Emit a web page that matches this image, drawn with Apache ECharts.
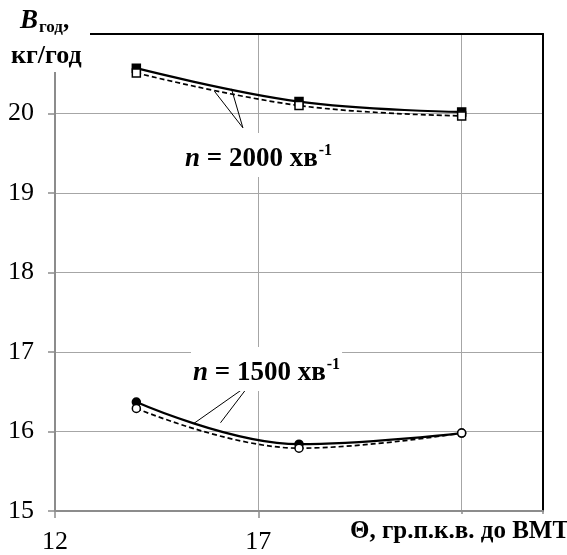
<!DOCTYPE html>
<html>
<head>
<meta charset="utf-8">
<script src="https://cdn.jsdelivr.net/npm/echarts@6/dist/echarts.min.js"></script>
<style>
  html, body { margin: 0; background: #fff; }
  #chart { width: 567px; height: 555px; }
</style>
</head>
<body>
<div id="chart"></div>
<script>
// Data
const angles = [14, 18, 22];
const fuel2000Solid = [20.57, 20.15, 20.02];
const fuel2000Dashed = [20.51, 20.10, 19.97];
const fuel1500Solid = [16.37, 15.84, 15.98];
const fuel1500Dashed = [16.29, 15.79, 15.98];
const xTickLabels = [12, 17];

// leader lines from labels to the curves (data units)
const leaders2000 = [[[16.62, 19.82], [15.92, 20.28]], [[16.62, 19.82], [16.34, 20.31]]];
const leaders1500 = [[[16.8, 16.6], [15.41, 16.1]], [[16.8, 16.6], [16.07, 16.11]]];

const serif = "'Liberation Serif', 'Times New Roman', serif";

const pairs = (ys) => angles.map((x, i) => [x, ys[i]]);

const makeSeries = (data, opts) => ({
  type: "line",
  data: pairs(data),
  smooth: 0.4,
  symbol: opts.symbol,
  symbolSize: opts.size,
  showSymbol: true,
  itemStyle: { color: opts.fill, borderColor: "#000", borderWidth: 1.5 },
  lineStyle: { color: "#000", width: opts.width, type: opts.dashed ? [5, 3] : "solid" },
  z: opts.z,
  markLine: opts.leaders ? {
    silent: true,
    symbol: "none",
    label: { show: false },
    lineStyle: { color: "#000", width: 1, type: "solid" },
    data: opts.leaders.map((l) => [{ coord: l[0] }, { coord: l[1] }]),
  } : undefined,
});

// rich text for the "n = ... хв-1" labels
const speedLabel = (rpm) => ({
  text: "{i|n}{t| = " + rpm + " хв}{p|-1}",
  fill: "#000",
  backgroundColor: "#fff",
  padding: [10, 2, 2, 2],
  rich: {
    i: { fontFamily: serif, fontSize: 27, fontWeight: "bold", fontStyle: "italic", lineHeight: 32 },
    t: { fontFamily: serif, fontSize: 27, fontWeight: "bold", lineHeight: 32 },
    p: { fontFamily: serif, fontSize: 16, fontWeight: "bold", verticalAlign: "top", lineHeight: 32, padding: [0, 0, 12, 1] },
  },
});

const chart = echarts.init(document.getElementById("chart"), null, { renderer: "canvas" });

const grayAxis = { lineStyle: { color: "#8c8c8c", width: 2 } };
const grayTick = { show: true, length: 7, lineStyle: { color: "#8c8c8c", width: 1.5 } };

chart.setOption({
  animation: false,
  grid: { left: 55, right: 24, top: 34, bottom: 42 },
  xAxis: [
    {
      type: "value",
      min: 12,
      max: 24,
      interval: 5,
      axisLine: grayAxis,
      axisTick: grayTick,
      axisLabel: {
        fontFamily: serif, fontSize: 26, color: "#000", margin: 18,
        formatter: (v) => (xTickLabels.includes(v) ? String(v) : ""),
      },
      splitLine: { show: true, lineStyle: { color: "#a6a6a6", width: 1 } },
    },
    {
      type: "value", position: "top", min: 12, max: 24, interval: 5,
      axisLine: { lineStyle: { color: "#000", width: 2 } },
      axisTick: { show: false }, axisLabel: { show: false }, splitLine: { show: false },
    },
  ],
  yAxis: [
    {
      type: "value",
      min: 15,
      max: 21,
      interval: 1,
      axisLine: { show: true, ...grayAxis },
      axisTick: grayTick,
      axisLabel: { fontFamily: serif, fontSize: 26, color: "#000", margin: 21, showMaxLabel: false },
      splitLine: { show: true, lineStyle: { color: "#a6a6a6", width: 1 } },
    },
    {
      type: "value", position: "right", min: 15, max: 21, interval: 1,
      axisLine: { show: true, lineStyle: { color: "#000", width: 2 } },
      axisTick: { show: false }, axisLabel: { show: false }, splitLine: { show: false },
    },
  ],
  series: [
    makeSeries(fuel2000Solid, { symbol: "rect", size: 8, fill: "#000", width: 2.2, z: 3 }),
    makeSeries(fuel2000Dashed, { symbol: "rect", size: 8, fill: "#fff", width: 1.7, dashed: true, z: 4, leaders: leaders2000 }),
    makeSeries(fuel1500Solid, { symbol: "circle", size: 8, fill: "#000", width: 2.2, z: 3 }),
    makeSeries(fuel1500Dashed, { symbol: "circle", size: 8, fill: "#fff", width: 1.7, dashed: true, z: 4, leaders: leaders1500 }),
  ],
  graphic: [
    // white box behind the y-axis title
    { type: "rect", left: 0, top: 0, shape: { width: 90, height: 72 }, style: { fill: "#fff" }, z: 100 },
    {
      type: "text", left: 20, top: 8, z: 101,
      style: {
        text: "{b|B}{s|год}{c|,}",
        fill: "#000",
        rich: {
          b: { fontFamily: serif, fontSize: 27, fontWeight: "bold", fontStyle: "italic", lineHeight: 30 },
          s: { fontFamily: serif, fontSize: 17, fontWeight: "bold", verticalAlign: "bottom", lineHeight: 30, padding: [10, 0, 0, 1] },
          c: { fontFamily: serif, fontSize: 25, fontWeight: "bold", lineHeight: 30 },
        },
      },
    },
    {
      type: "text", left: 11, top: 43, z: 101,
      style: { text: "кг/год", fill: "#000", fontFamily: serif, fontSize: 26, fontWeight: "bold" },
    },
    {
      type: "text", left: 343, top: 514, z: 101,
      style: {
        text: "Θ, гр.п.к.в. до ВМТ",
        fontFamily: serif, fontSize: 25, fontWeight: "bold", fill: "#000",
        backgroundColor: "#fff", padding: [5, 0, 6, 7],
      },
    },
    { type: "text", left: 183, top: 133, z: 101, style: speedLabel(2000) },
    { type: "text", left: 191, top: 347, z: 101, style: speedLabel(1500) },
  ],
});
</script>
</body>
</html>
